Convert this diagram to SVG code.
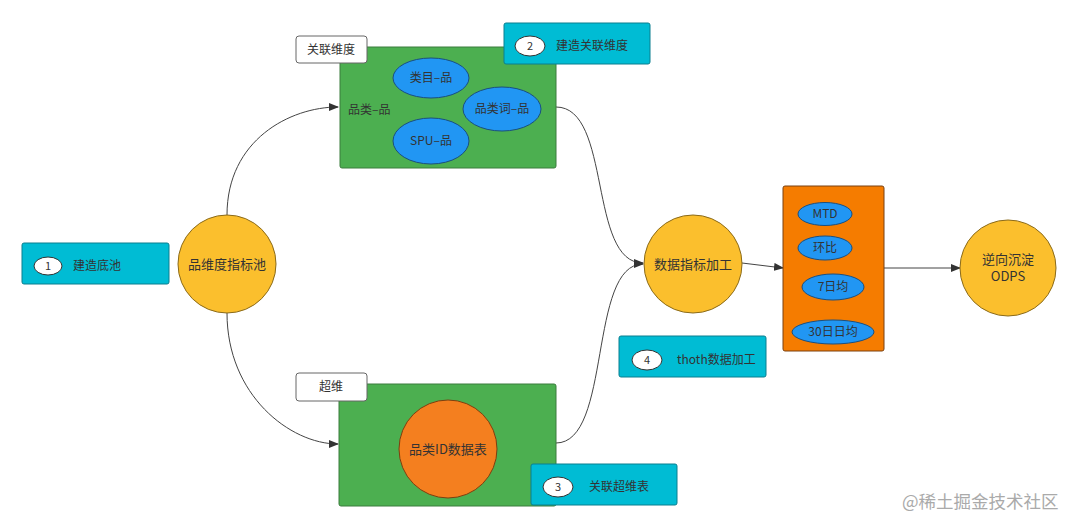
<svg xmlns="http://www.w3.org/2000/svg" width="1080" height="529" viewBox="0 0 1080 529">
<defs>
<marker id="ah" markerWidth="10" markerHeight="8" refX="9" refY="4" orient="auto" markerUnits="userSpaceOnUse">
<path d="M0,0 L10,4 L0,8 Z" fill="#333"/>
</marker>
<style>
text{font-family:"Noto Sans CJK SC","Liberation Sans",sans-serif;font-size:12px;fill:#333;}
text.f13{font-size:13px;}
text.f11{font-size:11px;}
text.wm{font-size:17.5px;fill:#aaa;}
.green{fill:#4caf50;stroke:#3a7d3c;stroke-width:1;}
.blue{fill:#2196f3;stroke:#1a4f80;stroke-width:1;}
.yellow{fill:#fbbf2d;stroke:#8a6a1a;stroke-width:1;}
.step{fill:#00bcd4;stroke:#0a7f8f;stroke-width:1;}
.num{fill:#fff;stroke:#333;stroke-width:1;}
.lbl{fill:#fff;stroke:#666;stroke-width:1;}
.conn{fill:none;stroke:#444;stroke-width:1;marker-end:url(#ah);}
.c{text-anchor:middle;}
</style>
</defs>
<rect width="1080" height="529" fill="#fff"/>

<g id="connectors">
<path class="conn" d="M227,215 C227,140 290,107 338,107"/>
<path class="conn" d="M227,313 C227,395 290,444 338,444"/>
<path class="conn" d="M556,107 C612,107 588,263 643,263"/>
<path class="conn" d="M556,443 C612,443 588,264 643,264"/>
<path class="conn" d="M742,263 L783,268"/>
<path class="conn" d="M884,268 L960,268"/>
</g>

<g id="step1">
<rect class="step" x="22" y="243" width="147" height="41" rx="2"/>
<ellipse class="num" cx="48" cy="266" rx="14" ry="9"/>
<text class="c f11" x="48" y="270">1</text>
<text x="73" y="270">建造底池</text>
</g>

<g id="pool">
<circle class="yellow" cx="227" cy="264" r="49"/>
<text class="c f13" x="227" y="269">品维度指标池</text>
</g>

<g id="assoc">
<rect class="green" x="340" y="47" width="216" height="121" rx="2"/>
<text x="348" y="114">品类–品</text>
<ellipse class="blue" cx="431" cy="78" rx="38" ry="20"/>
<text class="c" x="431" y="82">类目–品</text>
<ellipse class="blue" cx="502" cy="109" rx="39" ry="22"/>
<text class="c" x="502" y="113">品类词–品</text>
<ellipse class="blue" cx="431" cy="141" rx="38" ry="23"/>
<text class="c" x="431" y="145">SPU–品</text>
</g>
<g id="assocLabel">
<rect class="lbl" x="296" y="36" width="71" height="27" rx="3"/>
<text class="c" x="331" y="54">关联维度</text>
</g>

<g id="step2">
<rect class="step" x="504" y="23" width="146" height="41" rx="2"/>
<ellipse class="num" cx="530" cy="46" rx="15" ry="10"/>
<text class="c f11" x="530" y="50">2</text>
<text x="556" y="50">建造关联维度</text>
</g>

<g id="super">
<rect class="green" x="339" y="384" width="217" height="122" rx="2"/>
<circle cx="448" cy="449" r="49" fill="#f47f1f" stroke="#7a4010" stroke-width="1"/>
<text class="c f13" x="448" y="454">品类ID数据表</text>
</g>
<g id="superLabel">
<rect class="lbl" x="296" y="373" width="71" height="28" rx="3"/>
<text class="c" x="331" y="391">超维</text>
</g>

<g id="step3">
<rect class="step" x="531" y="464" width="146" height="41" rx="2"/>
<ellipse class="num" cx="558" cy="487" rx="15" ry="10"/>
<text class="c f11" x="558" y="491">3</text>
<text x="589" y="491">关联超维表</text>
</g>

<g id="process">
<circle class="yellow" cx="693" cy="264" r="49"/>
<text class="c f13" x="693" y="269">数据指标加工</text>
</g>

<g id="step4">
<rect class="step" x="619" y="336" width="147" height="41" rx="2"/>
<ellipse class="num" cx="647" cy="360" rx="15" ry="10"/>
<text class="c f11" x="647" y="364">4</text>
<text x="677" y="364">thoth数据加工</text>
</g>

<g id="metrics">
<rect x="783" y="186" width="101" height="165" rx="2" fill="#f57c00" stroke="#7a4010" stroke-width="1"/>
<ellipse class="blue" cx="825" cy="214" rx="27" ry="11.5"/>
<text class="c" x="825" y="218">MTD</text>
<ellipse class="blue" cx="825" cy="248" rx="27" ry="12"/>
<text class="c" x="825" y="252">环比</text>
<ellipse class="blue" cx="833" cy="287" rx="31" ry="13"/>
<text class="c" x="833" y="291">7日均</text>
<ellipse class="blue" cx="833" cy="332" rx="41" ry="12"/>
<text class="c" x="833" y="336">30日日均</text>
</g>

<g id="odps">
<circle class="yellow" cx="1008" cy="268" r="48"/>
<text class="c f13" x="1008" y="264">逆向沉淀</text>
<text class="c f13" x="1008" y="281">ODPS</text>
</g>

<text class="wm" x="902" y="508">@稀土掘金技术社区</text>
</svg>
